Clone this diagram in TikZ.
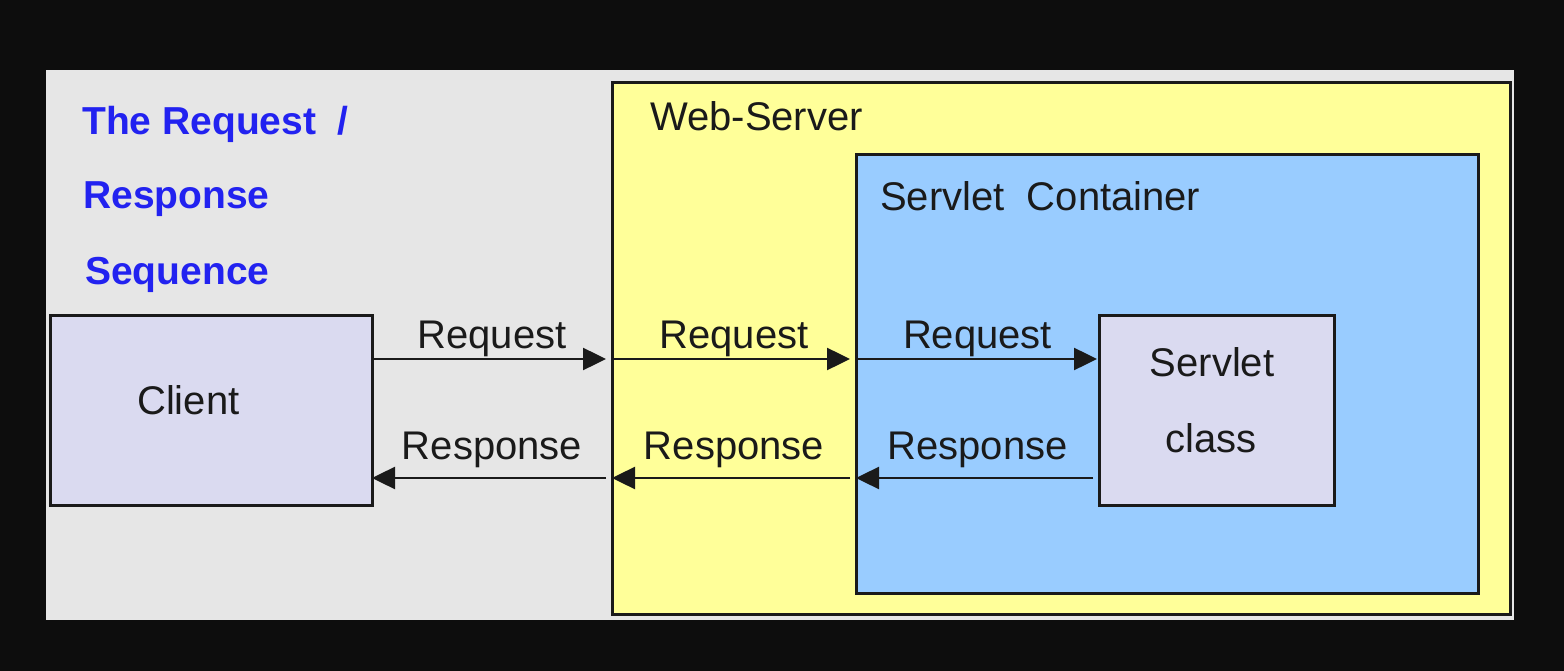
\documentclass[tikz,border=0pt]{standalone}
\usepackage{fontspec}
\setmainfont{Liberation Sans}
\usetikzlibrary{positioning,arrows.meta}
\definecolor{pagebg}{HTML}{0D0D0D}
\definecolor{panelgray}{HTML}{E6E6E6}
\definecolor{webyellow}{HTML}{FFFF99}
\definecolor{contblue}{HTML}{99CCFF}
\definecolor{lavender}{HTML}{DADAF0}
\definecolor{titleblue}{HTML}{2222F0}
\definecolor{edge}{HTML}{1A1A1A}

\begin{document}
\begin{tikzpicture}[x=1pt,y=-1pt,
    box/.style={draw=edge, line width=3pt, inner sep=0pt, outer sep=0pt},
    lbl/.style={font=\fontsize{40}{48}\selectfont, text=edge, inner sep=0pt, anchor=base west},
    msglbl/.style={font=\fontsize{40}{48}\selectfont, text=edge, inner sep=0pt, anchor=base},
    title/.style={font=\bfseries\fontsize{39}{47}\selectfont, text=titleblue, inner sep=0pt, anchor=base west},
    msg/.style={draw=edge, line width=2.5pt, -{Triangle[length=23pt,width=22pt]}}
]

\useasboundingbox (0,0) rectangle (1564,671);
\fill[pagebg] (0,0) rectangle (1564,671);

% boxes
\node[box, draw=none, fill=panelgray, minimum width=1468pt, minimum height=550pt] (panel) at (780,345) {};
\node[box, fill=webyellow, minimum width=898pt, minimum height=531pt] (websrv) at (1061,348.5) {};
\node[box, fill=contblue, minimum width=622pt, minimum height=438pt] (cont) at (1167,374) {};
\node[box, fill=lavender, minimum width=322pt, minimum height=190pt] (client) at (211,410) {};
\node[box, fill=lavender, minimum width=235pt, minimum height=190pt] (servlet) at (1216.5,410) {};

% texts
\node[title] (title1) at (82,135) {The Request~~/};
\node[title] (title2) at (83,209) {Response};
\node[title] (title3) at (85,284) {Sequence};
\node[lbl] (websrvlbl) at (650,131) {Web-Server};
\node[lbl] (contlbl) at (880,211) {Servlet~~Container};
\node[lbl] (clientlbl) at (137,414) {Client};
\node[msglbl] (servletlbl1) at (1212,376) {Servlet};
\node[msglbl] (servletlbl2) at (1211,452) {class};

\coordinate (reqrow) at (0,359);
\coordinate (resrow) at (0,478);

% request arrows
\draw[msg, shorten >=6pt] (reqrow -| client.east) -- (reqrow -| websrv.west)
    node[msglbl, midway, yshift=11pt] {Request};
\draw[msg, shorten >=6pt] (reqrow -| websrv.west) -- (reqrow -| cont.west)
    node[msglbl, midway, yshift=11pt] {Request};
\draw[msg, shorten >=2pt] (reqrow -| cont.west) -- (reqrow -| servlet.west)
    node[msglbl, midway, yshift=11pt] {Request};
% response arrows
\draw[msg, shorten <=6pt] (resrow -| websrv.west) -- (resrow -| client.east)
    node[msglbl, midway, yshift=19pt] {Response};
\draw[msg, shorten <=6pt] (resrow -| cont.west) -- (resrow -| websrv.west)
    node[msglbl, midway, yshift=19pt] {Response};
\draw[msg, shorten <=6pt] (resrow -| servlet.west) -- (resrow -| cont.west)
    node[msglbl, midway, yshift=19pt] {Response};

\end{tikzpicture}
\end{document}
